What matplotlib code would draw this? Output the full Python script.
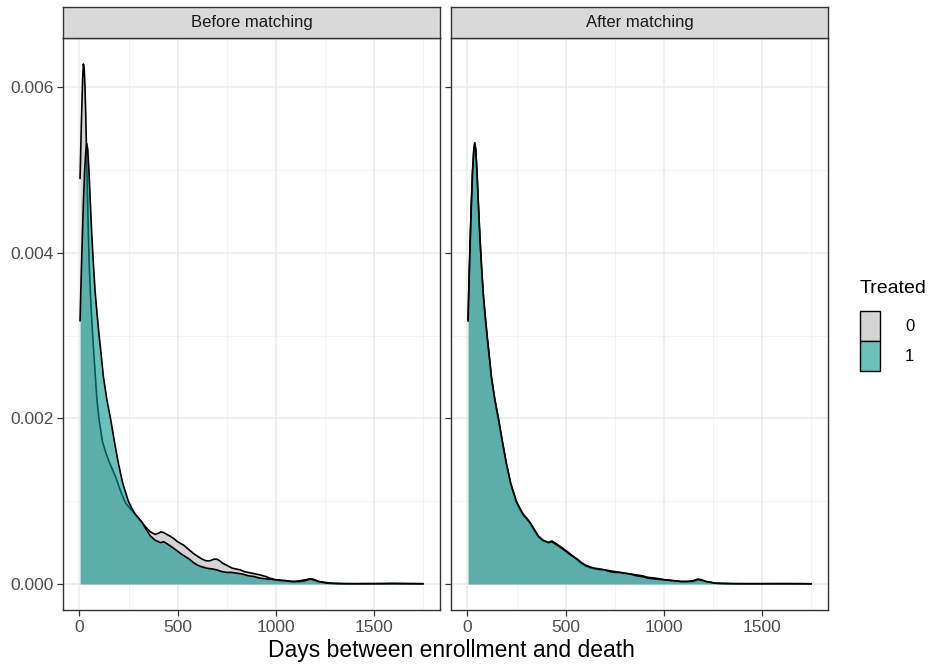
import numpy as np
import matplotlib
matplotlib.use("Agg")
import matplotlib.pyplot as plt
from matplotlib.patches import Patch

plt.rcParams['font.family'] = ['Liberation Sans', 'DejaVu Sans']

# Kernel density estimates of days between enrollment and death, by treatment
days_before_ctrl = [3, 10, 16, 20, 24, 28, 32, 36, 40, 45, 50, 55, 60, 70, 81, 90, 100, 117,
                    135, 150, 165, 183, 210, 234, 270, 310, 340, 361, 385, 400, 415, 430,
                    445, 460, 480, 500, 530, 555, 580, 605, 625, 645, 665, 685, 700, 715,
                    730, 755, 780, 800, 820, 840, 860, 880, 900, 920, 935, 950, 970, 985,
                    1000, 1025, 1050, 1075, 1100, 1125, 1150, 1170, 1185, 1200, 1220, 1250,
                    1280, 1320, 1360, 1400, 1450, 1500, 1550, 1600, 1650, 1700, 1750]
dens_before_ctrl = [0.00490, 0.00560, 0.00610, 0.00628, 0.00622, 0.00600, 0.00565, 0.00520,
                    0.00475, 0.00425, 0.00385, 0.00355, 0.00330, 0.00290, 0.00250, 0.00220,
                    0.00198, 0.00172, 0.00158, 0.00148, 0.00140, 0.00130, 0.00112, 0.00098,
                    0.00088, 0.00077, 0.00068, 0.00063, 0.00060, 0.00061, 0.00063, 0.00062,
                    0.00060, 0.00058, 0.00055, 0.00051, 0.00047, 0.00042, 0.00037, 0.00033,
                    0.00030, 0.00028, 0.00028, 0.00030, 0.00030, 0.00028, 0.00025, 0.00022,
                    0.00019, 0.00018, 0.00017, 0.00015, 0.00014, 0.00013, 0.00012, 0.00011,
                    0.00010, 0.00009, 0.00007, 0.00006, 0.00005, 0.00004, 0.00004, 0.00003,
                    0.00003, 0.00004, 0.00005, 0.00006, 0.00006, 0.00005, 0.00003, 0.00002,
                    0.00001, 0.000006, 0.000004, 0.000004, 0.000005, 0.000005, 0.000006,
                    0.000008, 0.000006, 0.000005, 0.000004]

days_treated = [3, 8, 14, 20, 26, 32, 37, 42, 48, 55, 62, 70, 80, 90, 100, 110, 122, 140,
                158, 178, 198, 220, 249, 270, 285, 300, 320, 340, 361, 385, 412, 430,
                450, 475, 498, 520, 540, 560, 580, 600, 620, 650, 680, 700, 725, 750,
                775, 803, 830, 860, 890, 920, 960, 1006, 1050, 1088, 1120, 1150, 1174,
                1195, 1215, 1240, 1260, 1300, 1350, 1400, 1500, 1600, 1700, 1750]
dens_treated = [0.00318, 0.00365, 0.00415, 0.00460, 0.00498, 0.00522, 0.00532, 0.00525,
                0.00500, 0.00462, 0.00425, 0.00390, 0.00352, 0.00325, 0.00300, 0.00278,
                0.00250, 0.00222, 0.00200, 0.00172, 0.00146, 0.00122, 0.00100, 0.00090,
                0.00084, 0.00080, 0.00074, 0.00066, 0.00058, 0.00053, 0.00050, 0.00051,
                0.00048, 0.00044, 0.00040, 0.00036, 0.00033, 0.00030, 0.00026, 0.00023,
                0.00021, 0.00019, 0.00018, 0.00017, 0.00015, 0.00014, 0.00014, 0.00013,
                0.00012, 0.00010, 0.00009, 0.00007, 0.00006, 0.00005, 0.00004, 0.00003,
                0.00003, 0.00004, 0.00006, 0.00005, 0.00003, 0.00002, 0.00001, 0.000006,
                0.000004, 0.000003, 0.000003, 0.000004, 0.000003, 0.000002]

days_after_ctrl = [3, 8, 14, 20, 26, 32, 37, 42, 48, 55, 62, 70, 80, 90, 100, 110, 122, 140,
                   158, 178, 198, 220, 249, 270, 285, 300, 320, 340, 361, 385, 412, 430,
                   450, 475, 498, 520, 540, 560, 580, 600, 620, 650, 680, 700, 725, 750,
                   775, 803, 830, 860, 890, 920, 960, 1006, 1050, 1088, 1120, 1150, 1174,
                   1195, 1215, 1240, 1260, 1300, 1350, 1400, 1500, 1600, 1700, 1750]
dens_after_ctrl = [0.00318, 0.00368, 0.00418, 0.00462, 0.00500, 0.00524, 0.00533, 0.00524,
                   0.00498, 0.00460, 0.00424, 0.00388, 0.00350, 0.00323, 0.00298, 0.00276,
                   0.00249, 0.00221, 0.00198, 0.00171, 0.00145, 0.00121, 0.00099, 0.00089,
                   0.00083, 0.00079, 0.00073, 0.00065, 0.00057, 0.00052, 0.00050, 0.00052,
                   0.00049, 0.00045, 0.00041, 0.00037, 0.00033, 0.00029, 0.00025, 0.00022,
                   0.00020, 0.00018, 0.00017, 0.00017, 0.00016, 0.00015, 0.00014, 0.00013,
                   0.00012, 0.00011, 0.00010, 0.00008, 0.00007, 0.00005, 0.00004, 0.00003,
                   0.00003, 0.00003, 0.00005, 0.00004, 0.00003, 0.00002, 0.00001, 0.000007,
                   0.000005, 0.000004, 0.000004, 0.000004, 0.000004, 0.000003]

panels = ["Before matching", "After matching"]
groups = ["0", "1"]
x_ticks = [0, 500, 1000, 1500]
y_ticks = [0.000, 0.002, 0.004, 0.006]
x_label = "Days between enrollment and death"
legend_title = "Treated"

grey_fill = "#d4d4d4"
teal_fill = "#0a968f"
teal_alpha = 0.6

W, H = 932, 668
fig = plt.figure(figsize=(W / 100, H / 100), dpi=100)

def fx(px):
    return px / W

def fy(py):
    return 1 - py / H

panel_top, panel_bot = 38, 610
strip_top = 7
panel_x = [(63, 440), (451, 828)]

data = [
    ((days_before_ctrl, dens_before_ctrl), (days_treated, dens_treated)),
    ((days_after_ctrl, dens_after_ctrl), (days_treated, dens_treated)),
]

xlim = (-84, 1837)
ymax_data = max(max(dens_before_ctrl), max(dens_treated), max(dens_after_ctrl))
ylim = (-0.05 * ymax_data, 1.05 * ymax_data)

tick_color = "#4d4d4d"
border_color = "#333333"

for i, (title, (ctrl, trt)) in enumerate(zip(panels, data)):
    x0, x1 = panel_x[i]
    ax = fig.add_axes([fx(x0), fy(panel_bot), fx(x1) - fx(x0), fy(panel_top) - fy(panel_bot)])
    ax.set_xlim(*xlim)
    ax.set_ylim(*ylim)
    ax.set_facecolor("white")

    # grid: major and minor lines
    for v in [250, 750, 1250, 1750]:
        ax.axvline(v, color="#f2f2f2", lw=0.6, zorder=0)
    for v in [0.001, 0.003, 0.005]:
        ax.axhline(v, color="#f2f2f2", lw=0.6, zorder=0)
    for v in x_ticks:
        ax.axvline(v, color="#ebebeb", lw=1.1, zorder=0)
    for v in y_ticks:
        ax.axhline(v, color="#ebebeb", lw=1.1, zorder=0)

    cx, cy = ctrl
    tx, ty = trt
    ax.fill_between(cx, 0, cy, color=grey_fill, lw=0, zorder=1)
    ax.plot(cx, cy, color="black", lw=1.2, zorder=2, solid_joinstyle="round")
    ax.fill_between(tx, 0, ty, color=teal_fill, alpha=teal_alpha, lw=0, zorder=3)
    ax.plot(tx, ty, color="black", lw=1.2, zorder=4, solid_joinstyle="round")

    ax.set_xticks(x_ticks)
    ax.set_xticklabels([str(t) for t in x_ticks])
    ax.set_yticks(y_ticks)
    if i == 0:
        ax.set_yticklabels([f"{t:.3f}" for t in y_ticks])
    else:
        ax.set_yticklabels([])
        ax.tick_params(axis="y", length=0)
    ax.tick_params(axis="both", colors=border_color, labelcolor=tick_color,
                   labelsize=12.5, length=4, width=0.9, pad=3)
    for s in ax.spines.values():
        s.set_color(border_color)
        s.set_linewidth(1.0)
        s.set_zorder(6)

    # facet strip
    sax = fig.add_axes([fx(x0), fy(panel_top), fx(x1) - fx(x0), fy(strip_top) - fy(panel_top)])
    sax.set_facecolor("#d9d9d9")
    sax.set_xticks([])
    sax.set_yticks([])
    for s in sax.spines.values():
        s.set_color(border_color)
        s.set_linewidth(1.0)
    sax.text(0.5, 0.5, title, ha="center", va="center", fontsize=12, color="#1a1a1a",
             transform=sax.transAxes)

fig.text(fx(451), fy(651), x_label, ha="center", va="center", fontsize=16.5, color="black")

handles = [Patch(facecolor=grey_fill, edgecolor="black", lw=1.0),
           Patch(facecolor=teal_fill, alpha=teal_alpha, edgecolor="black", lw=1.0)]
leg = fig.legend(handles, groups, title=legend_title, loc="upper left",
                 bbox_to_anchor=(fx(860), fy(280)), frameon=False, fontsize=12,
                 title_fontsize=14, handlelength=1.2, handleheight=2.4,
                 handletextpad=1.5, labelspacing=0.0, borderaxespad=0,
                 borderpad=0)
leg._legend_box.align = "left"
leg._legend_box.sep = 10
for h in leg.legend_handles:
    h.set_alpha(None)
leg.legend_handles[1].set_facecolor((0.424, 0.753, 0.737))

fig.savefig("out.png", dpi=100)
